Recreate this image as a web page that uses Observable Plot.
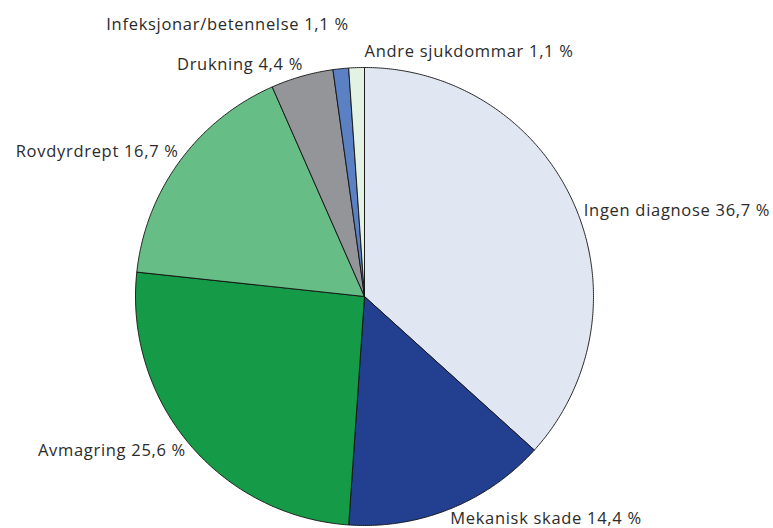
<!DOCTYPE html>
<html>
<head>
<meta charset="utf-8">
<script src="https://cdn.jsdelivr.net/npm/d3@7"></script>
<script src="https://cdn.jsdelivr.net/npm/@observablehq/plot@0.6"></script>
<style>
  html, body { margin: 0; padding: 0; background: #fff; }
  #chart svg { display: block; }
  #chart svg text { letter-spacing: 0.7px; }
</style>
</head>
<body>
<div id="chart"></div>
<script>
const categories = ["Ingen diagnose", "Mekanisk skade", "Avmagring", "Rovdyrdrept", "Drukning", "Infeksjonar/betennelse", "Andre sjukdommar"];
const shares = [36.7, 14.4, 25.6, 16.7, 4.4, 1.1, 1.1];
const shareLabels = ["36,7 %", "14,4 %", "25,6 %", "16,7 %", "4,4 %", "1,1 %", "1,1 %"];
const colors = ["#e1e7f2", "#233f8f", "#159a47", "#67bd86", "#939598", "#5c80c4", "#e4f2e3"];

// Build slice outlines (unit circle, clockwise from 12 o'clock) from the shares
const total = d3.sum(shares);
const slicePts = [];
const labelPts = [];
let cum = 0;
shares.forEach((v, i) => {
  const a0 = cum / total * 2 * Math.PI;
  const a1 = (cum + v) / total * 2 * Math.PI;
  cum += v;
  const n = Math.max(2, Math.ceil((a1 - a0) / (Math.PI / 360)));
  slicePts.push({label: categories[i], x: 0, y: 0});
  for (let k = 0; k <= n; k++) {
    const a = a0 + (a1 - a0) * k / n;
    slicePts.push({label: categories[i], x: Math.sin(a), y: Math.cos(a)});
  }
  slicePts.push({label: categories[i], x: 0, y: 0});
  const am = (a0 + a1) / 2;
  labelPts.push({label: categories[i], text: categories[i] + " " + shareLabels[i], x: Math.sin(am), y: Math.cos(am)});
});

const font = {fontFamily: "'Open Sans', sans-serif", fontSize: 16.5, fill: "#2b2b2b", lineAnchor: "middle"};
const lab = (name, anchor, dx, dy) =>
  Plot.text(labelPts.filter(d => d.label === name), {x: "x", y: "y", text: "text", textAnchor: anchor, dx, dy, ...font});

const plot = Plot.plot({
  width: 773,
  height: 528,
  margin: 0,
  x: {domain: [-1, 1], range: [135, 593], axis: null},
  y: {domain: [-1, 1], range: [525, 67], axis: null},
  color: {domain: categories, range: colors},
  marks: [
    Plot.line(slicePts, {x: "x", y: "y", z: "label", fill: "label", stroke: "#111", strokeWidth: 0.9, curve: "linear", strokeLinejoin: "miter"}),
    lab("Ingen diagnose", "start", 10, 7),
    lab("Mekanisk skade", "start", 0, 10),
    lab("Avmagring", "end", -3, 7),
    lab("Rovdyrdrept", "end", -1, -10),
    lab("Drukning", "end", 1, -11),
    lab("Infeksjonar/betennelse", "end", 8, -44),
    lab("Andre sjukdommar", "start", 8, -16)
  ]
});
document.getElementById("chart").appendChild(plot);
</script>
</body>
</html>
